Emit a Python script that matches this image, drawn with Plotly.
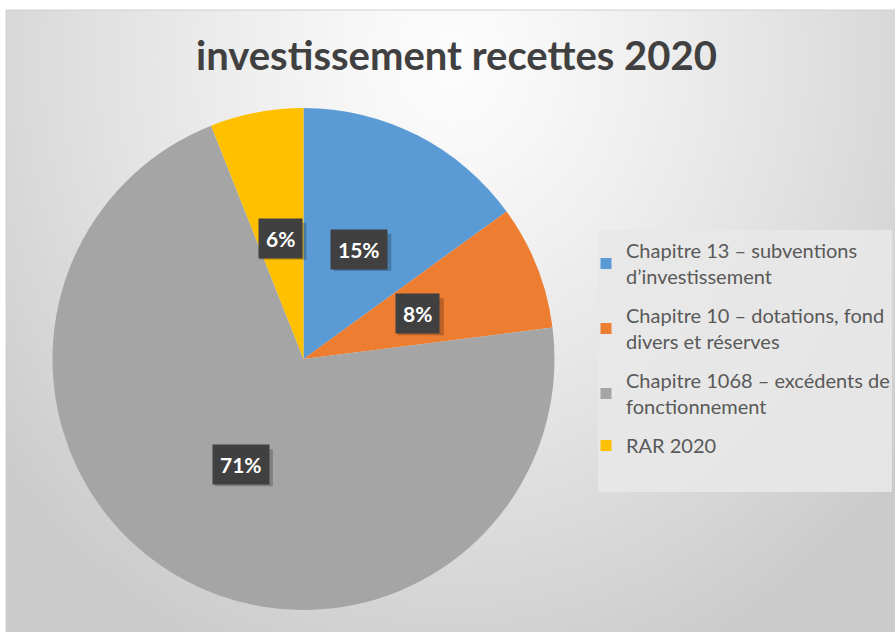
import base64, struct, zlib, math
import numpy as np
import plotly.graph_objects as go

# ---- data ----
categories = [
    "Chapitre 13 – subventions<br>d’investissement",
    "Chapitre 10 – dotations, fond<br>divers et réserves",
    "Chapitre 1068 – excédents de<br>fonctionnement",
    "RAR 2020",
]
values = [15, 8, 71, 6]
colors = ["#5B9BD5", "#ED7D31", "#A5A5A5", "#FFC000"]
title_text = "investissement recettes 2020"

W, H = 895, 632

# ---- background gradient (radial, light centre near the title) ----
def gradient_png(w, h):
    ys, xs = np.mgrid[0:h, 0:w].astype(float)
    cx, cy = w * 0.5, 50.0
    t = np.sqrt(((xs - cx) / 580.0) ** 2 + ((ys - cy) / 660.0) ** 2)
    t = np.clip(t, 0, 1)
    g = (253 - 50 * t ** 1.2).astype(np.uint8)
    raw = b"".join(b"\x00" + g[r].tobytes() for r in range(h))
    def chunk(tag, data):
        c = struct.pack(">I", len(data)) + tag + data
        return c + struct.pack(">I", zlib.crc32(tag + data) & 0xFFFFFFFF)
    png = b"\x89PNG\r\n\x1a\n"
    png += chunk(b"IHDR", struct.pack(">IIBBBBB", w, h, 8, 0, 0, 0, 0))
    png += chunk(b"IDAT", zlib.compress(raw, 9))
    png += chunk(b"IEND", b"")
    return "data:image/png;base64," + base64.b64encode(png).decode()

fx0, fy0 = 6, 10  # frame offset in px
bg = gradient_png(W - fx0, H - fy0)

# pie domain (paper coordinates)
dom_x = [52 / W, 555 / W]
dom_y = [1 - 610 / H, 1 - 108 / H]

fig = go.Figure(
    go.Pie(
        labels=categories,
        values=values,
        sort=False,
        direction="clockwise",
        rotation=0,
        marker=dict(colors=colors, line=dict(width=0)),
        textinfo="none",
        hoverinfo="label+percent",
        domain=dict(x=dom_x, y=dom_y),
        showlegend=False,
    )
)

# legend entries (one per slice, separate groups so they can be spaced)
for i, (name, col) in enumerate(zip(categories, colors)):
    fig.add_trace(go.Scatter(
        x=[None], y=[None], mode="markers", name=name,
        marker=dict(symbol="square", size=11, color=col),
        legendgroup=f"g{i}", showlegend=True, hoverinfo="skip",
    ))

# percent labels as dark boxes, placed from the data at slice mid-angles
cxp = (dom_x[0] + dom_x[1]) / 2
cyp = (dom_y[0] + dom_y[1]) / 2
R = min((dom_x[1] - dom_x[0]) * W, (dom_y[1] - dom_y[0]) * H) / 2
total = sum(values)
shadow_shapes = []
cum = 0
for v in values:
    mid = (cum + v / 2) / total * 2 * math.pi
    cum += v
    r = 0.49 * R
    x = cxp + r * math.sin(mid) / W
    y = cyp + r * math.cos(mid) / H
    txt = f"{round(v / total * 100)}%"
    bw = 22 + 12 * len(txt)
    bh = 37
    # soft drop shadow behind the label box
    shadow_shapes.append(dict(
        type="rect", xref="paper", yref="paper",
        xsizemode="pixel", ysizemode="pixel", xanchor=x, yanchor=y,
        x0=-bw / 2 + 3, x1=bw / 2 + 3, y0=-bh / 2 - 3, y1=bh / 2 - 3,
        fillcolor="rgba(0,0,0,0.22)", line=dict(width=0), layer="above",
    ))
    fig.add_annotation(text=f"<b>{txt}</b>", x=x, y=y, xref="paper", yref="paper",
                       showarrow=False, xanchor="center", yanchor="middle",
                       borderpad=7,
                       font=dict(family="Lato", size=21, color="white"),
                       bgcolor="#404040")

fig.update_layout(
    width=W,
    height=H,
    margin=dict(l=0, r=0, t=0, b=0, autoexpand=False),
    paper_bgcolor="white",
    plot_bgcolor="rgba(0,0,0,0)",
    xaxis=dict(visible=False),
    yaxis=dict(visible=False),
    title=dict(
        text=f"<b>{title_text}</b>",
        x=0.51, xanchor="center", y=1 - 56 / H, yanchor="middle",
        font=dict(family="Lato", size=40, color="#404040"),
    ),
    legend=dict(
        x=586 / W, xanchor="left", y=1 - 231 / H, yanchor="top",
        bgcolor="rgba(0,0,0,0)",
        font=dict(family="Lato", size=20, color="#595959"),
        itemwidth=30,
        tracegroupgap=10,
        traceorder="grouped",
    ),
    images=[dict(
        source=bg, xref="paper", yref="paper",
        x=fx0 / W, y=1 - fy0 / H, sizex=1 - fx0 / W, sizey=1 - fy0 / H,
        xanchor="left", yanchor="top", sizing="stretch", layer="below",
    )],
    shapes=[
        dict(type="rect", xref="paper", yref="paper",
             x0=fx0 / W, x1=1.01, y0=-0.01, y1=1 - fy0 / H,
             line=dict(color="#d0d0d0", width=1), layer="below"),
        dict(type="rect", xref="paper", yref="paper",
             x0=598 / W, x1=892 / W, y0=1 - 492 / H, y1=1 - 230 / H,
             fillcolor="rgba(232,232,232,0.9)", line=dict(width=0), layer="below"),
    ] + shadow_shapes,
)

fig.write_html("out.html", config={"displayModeBar": False},
               post_script="document.body.style.margin='0px';")
